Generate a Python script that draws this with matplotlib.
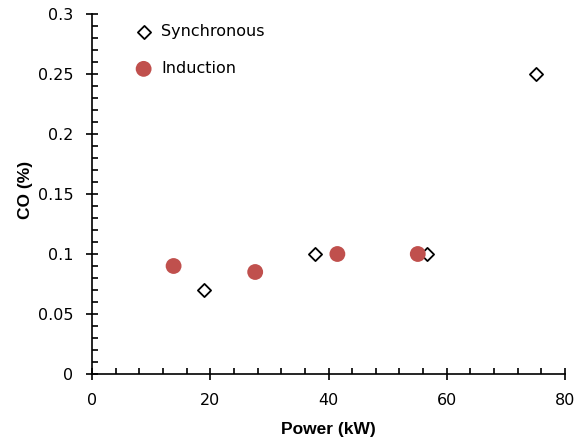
import matplotlib
matplotlib.use("Agg")
import matplotlib.pyplot as plt
from matplotlib.ticker import MultipleLocator

sync_x = [18.9, 37.7, 56.6, 75.1]
sync_y = [0.07, 0.10, 0.10, 0.25]
ind_x = [13.8, 27.6, 41.5, 55.1]
ind_y = [0.09, 0.085, 0.10, 0.10]
yticks = [0, 0.05, 0.1, 0.15, 0.2, 0.25, 0.3]
ytick_labels = ['0', '0.05', '0.1', '0.15', '0.2', '0.25', '0.3']

plt.rcParams['font.family'] = ['DejaVu Sans']
fig = plt.figure(figsize=(5.86, 4.43), dpi=100)
ax = fig.add_axes([92/586, 1-374/443, (565-92)/586, (374-14)/443])

ax.scatter(sync_x, sync_y, marker='D', s=45, facecolors='white', edgecolors='black',
           linewidths=1.3, label='Synchronous', zorder=3)
ax.scatter(ind_x, ind_y, marker='o', s=130, color='#C0504D', edgecolors='none',
           label='Induction', zorder=3)

ax.set_xlim(0, 80)
ax.set_ylim(0, 0.3)
ax.xaxis.set_major_locator(MultipleLocator(20))
ax.xaxis.set_minor_locator(MultipleLocator(4))
ax.set_yticks(yticks)
ax.set_yticklabels(ytick_labels)
ax.yaxis.set_minor_locator(MultipleLocator(0.01))

for s in ['top', 'right']:
    ax.spines[s].set_visible(False)
for s in ['left', 'bottom']:
    ax.spines[s].set_linewidth(1.2)
ax.tick_params(which='major', direction='inout', length=9, width=1.2, labelsize=11.5, pad=9)
ax.tick_params(which='minor', direction='in', length=4, width=1.2)

ax.set_xlabel('Power (kW)', fontsize=12.5, fontweight='bold', family='Liberation Sans')
ax.xaxis.set_label_coords(0.5, -0.133)
ax.set_ylabel('CO (%)', fontsize=12.5, fontweight='bold', family='Liberation Sans')
ax.yaxis.set_label_coords(-0.125, 0.51)

ax.legend(loc='upper left', bbox_to_anchor=(0.045, 1.013), frameon=False, fontsize=11.5,
          handletextpad=0.1, labelspacing=1.4, scatterpoints=1)

fig.savefig('out.png', dpi=100)
